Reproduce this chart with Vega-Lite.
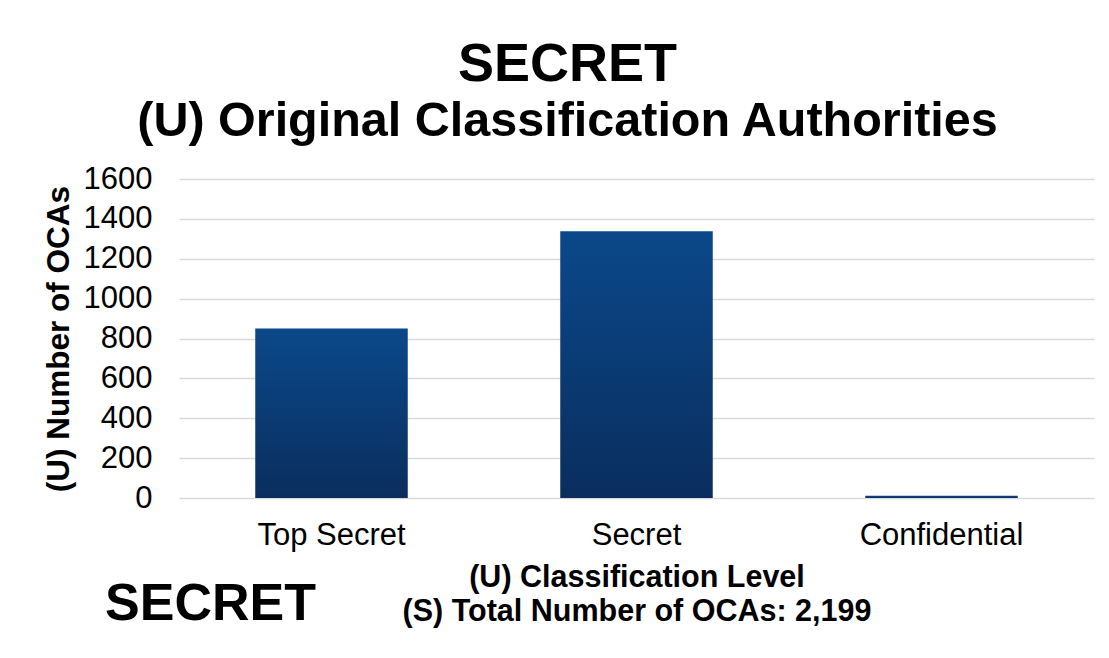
{
  "$schema": "https://vega.github.io/schema/vega-lite/v6.json",
  "autosize": {"type": "none"},
  "width": 915,
  "height": 319,
  "padding": {"left": 179, "top": 179, "right": 15, "bottom": 160},
  "background": "white",
  "config": {
    "font": "Liberation Sans",
    "view": {"stroke": null},
    "axisX": {
      "titleFontSize": 30.5,
      "titleFontWeight": "bold",
      "titleColor": "black",
      "titleLineHeight": 34,
      "titlePadding": 12,
      "labelAngle": 0,
      "labelFontSize": 31,
      "labelColor": "black",
      "labelPadding": 22,
      "ticks": false,
      "domain": false
    },
    "axisY": {
      "titleFontSize": 31.5,
      "titleFontWeight": "bold",
      "titleColor": "black",
      "titlePadding": 8,
      "labelFontSize": 31,
      "labelColor": "black",
      "labelPadding": 27,
      "labelOverlap": false,
      "ticks": false,
      "domain": false,
      "gridColor": "#d9d9d9",
      "gridWidth": 1.5
    }
  },
  "title": {
    "text": "SECRET",
    "subtitle": "(U) Original Classification Authorities",
    "anchor": "middle",
    "dx": -69,
    "offset": 18,
    "fontSize": 54,
    "fontWeight": "bold",
    "color": "black",
    "subtitleFontSize": 48.5,
    "subtitleFontWeight": "bold",
    "subtitleColor": "black",
    "subtitlePadding": 6
  },
  "layer": [
    {
      "data": {
        "values": [
          {"level": "Top Secret", "count": 850},
          {"level": "Secret", "count": 1338},
          {"level": "Confidential", "count": 11}
        ]
      },
      "mark": {
        "type": "bar",
        "color": {
          "gradient": "linear",
          "x1": 0, "y1": 0, "x2": 0, "y2": 1,
          "stops": [
            {"offset": 0, "color": "#0b4889"},
            {"offset": 1, "color": "#0a2e5e"}
          ]
        }
      },
      "encoding": {
        "x": {
          "field": "level",
          "type": "nominal",
          "sort": null,
          "scale": {"paddingInner": 0.5, "paddingOuter": 0.25},
          "axis": {
            "title": ["(U) Classification Level", "(S) Total Number of OCAs: 2,199"]
          }
        },
        "y": {
          "field": "count",
          "type": "quantitative",
          "scale": {"domain": [0, 1600]},
          "axis": {
            "title": "(U) Number of OCAs",
            "values": [0, 200, 400, 600, 800, 1000, 1200, 1400, 1600],
            "format": "d"
          }
        }
      }
    },
    {
      "data": {"values": [{"label": "SECRET"}]},
      "mark": {
        "type": "text",
        "fontSize": 52,
        "fontWeight": "bold",
        "color": "black",
        "baseline": "alphabetic",
        "align": "center",
        "dx": -121,
        "dy": 122
      },
      "encoding": {
        "x": {
          "datum": "Top Secret",
          "type": "nominal",
          "axis": {
            "title": ["(U) Classification Level", "(S) Total Number of OCAs: 2,199"]
          }
        },
        "y": {
          "datum": 0,
          "type": "quantitative",
          "axis": {
            "title": "(U) Number of OCAs",
            "values": [0, 200, 400, 600, 800, 1000, 1200, 1400, 1600],
            "format": "d"
          }
        },
        "text": {"field": "label"}
      }
    }
  ]
}
